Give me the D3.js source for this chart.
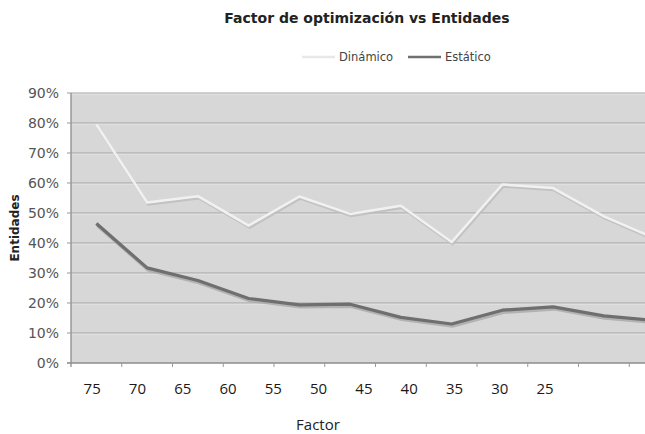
<!DOCTYPE html>
<meta charset="utf-8">
<style>
body { margin: 0; background: #fff; }
text { font-family: "DejaVu Sans", sans-serif; }
.grid line { stroke: #a4a4a4; stroke-width: 1.2px; }
.ylab text { fill: #555; font-size: 14px; }
.xlab text { fill: #1a1a1a; font-size: 15px; font-family: "Open Sans", sans-serif; }
</style>
<svg width="645" height="434"></svg>
<script src="https://d3js.org/d3.v7.min.js"></script>
<script>

var factors = ["75", "70", "65", "60", "55", "50", "45", "40", "35", "30", "25", "20"];
var dinamico = [0.795, 0.535, 0.556, 0.458, 0.555, 0.497, 0.524, 0.403, 0.595, 0.583, 0.489, 0.416];
var estatico = [0.465, 0.317, 0.275, 0.215, 0.194, 0.196, 0.152, 0.130, 0.176, 0.187, 0.157, 0.142];
var yTicks = [0, 0.1, 0.2, 0.3, 0.4, 0.5, 0.6, 0.7, 0.8, 0.9];

var svg = d3.select("svg");

var pLeft = 71, pTop = 93, pBottom = 363, pRight = 680;

var x = d3.scaleBand().domain(factors).range([pLeft, pRight]);
var xLab = d3.scaleBand().domain(factors).range([69.5, 613]);
var y = d3.scaleLinear().domain([0, 0.9]).range([pBottom, pTop]);

// plot background
svg.append("rect")
    .attr("x", pLeft).attr("y", pTop)
    .attr("width", pRight - pLeft).attr("height", pBottom - pTop)
    .attr("fill", "#d7d7d7");

// gridlines
var grid = svg.append("g").attr("class", "grid");
grid.selectAll("line.g")
  .data(yTicks.slice(1))
  .enter().append("line")
    .attr("x1", pLeft).attr("x2", pRight)
    .attr("y1", function(d) { return y(d); })
    .attr("y2", function(d) { return y(d); });
grid.selectAll("line.h")
  .data(yTicks.slice(1))
  .enter().append("line")
    .style("stroke", "#e2e2e2").style("stroke-width", 1)
    .attr("x1", pLeft).attr("x2", pRight)
    .attr("y1", function(d) { return y(d) + 1.2; })
    .attr("y2", function(d) { return y(d) + 1.2; });

// axes lines
svg.append("line").attr("x1", pLeft).attr("x2", pLeft).attr("y1", pTop).attr("y2", pBottom + 4)
    .attr("stroke", "#8c8c8c").attr("stroke-width", 1.3);
svg.append("line").attr("x1", pLeft - 4).attr("x2", pRight).attr("y1", pBottom).attr("y2", pBottom)
    .attr("stroke", "#8c8c8c").attr("stroke-width", 1.3);

// x tick marks at band edges
svg.append("g")
  .selectAll("line")
  .data(factors)
  .enter().append("line")
    .attr("x1", function(d) { return x(d) + x.bandwidth(); })
    .attr("x2", function(d) { return x(d) + x.bandwidth(); })
    .attr("y1", pBottom).attr("y2", pBottom + 4)
    .attr("stroke", "#999");

// y tick marks
svg.append("g")
  .selectAll("line")
  .data(yTicks)
  .enter().append("line")
    .attr("x1", pLeft - 4).attr("x2", pLeft)
    .attr("y1", function(d) { return y(d); })
    .attr("y2", function(d) { return y(d); })
    .attr("stroke", "#999");

// y labels
svg.append("g").attr("class", "ylab")
  .selectAll("text")
  .data(yTicks)
  .enter().append("text")
    .attr("x", 59)
    .attr("y", function(d) { return y(d); })
    .attr("dy", "0.36em")
    .attr("text-anchor", "end")
    .text(function(d) { return Math.round(d * 100) + "%"; });

// x labels
svg.append("g").attr("class", "xlab")
  .selectAll("text")
  .data(factors.slice(0, 11))
  .enter().append("text")
    .attr("x", function(d) { return xLab(d) + xLab.bandwidth() / 2; })
    .attr("y", 394)
    .attr("text-anchor", "middle")
    .text(function(d) { return d; });

var line = function(vals) {
  return d3.line()
    .x(function(d, i) { return x(factors[i]) + x.bandwidth() / 2; })
    .y(function(d) { return y(d); })(vals);
};

svg.append("clipPath").attr("id", "clip")
  .append("rect").attr("x", pLeft).attr("y", pTop - 5).attr("width", pRight - pLeft).attr("height", pBottom - pTop + 5);

var lines = svg.append("g").attr("clip-path", "url(#clip)");

// shadows
lines.append("path").attr("d", line(dinamico)).attr("transform", "translate(1,2)")
    .attr("fill", "none").attr("stroke", "#bdbdbd").attr("stroke-width", 2.5).attr("stroke-opacity", 0.8);
lines.append("path").attr("d", line(estatico)).attr("transform", "translate(1,2)")
    .attr("fill", "none").attr("stroke", "#a9a9a9").attr("stroke-width", 3.5).attr("stroke-opacity", 0.8);

lines.append("path").attr("d", line(dinamico))
    .attr("fill", "none").attr("stroke", "#f1f1f1").attr("stroke-width", 2.5)
    .attr("stroke-linejoin", "round");
lines.append("path").attr("d", line(estatico))
    .attr("fill", "none").attr("stroke", "#6f6f6f").attr("stroke-width", 3.2)
    .attr("stroke-linejoin", "round");

// title
svg.append("text")
    .attr("x", 367).attr("y", 23)
    .attr("text-anchor", "middle")
    .style("font-weight", "bold").style("font-size", "14px").style("fill", "#222")
    .text("Factor de optimización vs Entidades");

// legend
var legend = [
  {name: "Dinámico", color: "#e8e8e8", x: 302},
  {name: "Estático", color: "#707070", x: 408}
];
var lg = svg.append("g").selectAll("g").data(legend).enter().append("g");
lg.append("line")
    .attr("x1", function(d) { return d.x; }).attr("x2", function(d) { return d.x + 33; })
    .attr("y1", 57).attr("y2", 57)
    .attr("stroke", function(d) { return d.color; }).attr("stroke-width", 2.5);
lg.append("text")
    .attr("x", function(d) { return d.x + 37; }).attr("y", 57).attr("dy", "0.36em")
    .style("font-size", "11.5px").style("fill", "#444")
    .text(function(d) { return d.name; });

// axis titles
svg.append("text")
    .attr("transform", "translate(19,228) rotate(-90)")
    .attr("text-anchor", "middle")
    .style("font-weight", "bold").style("font-size", "12px").style("fill", "#222")
    .text("Entidades");

svg.append("text")
    .attr("x", 318).attr("y", 430)
    .attr("text-anchor", "middle")
    .style("font-size", "15px").style("font-family", "'Open Sans', sans-serif").style("fill", "#222")
    .text("Factor");

</script>
